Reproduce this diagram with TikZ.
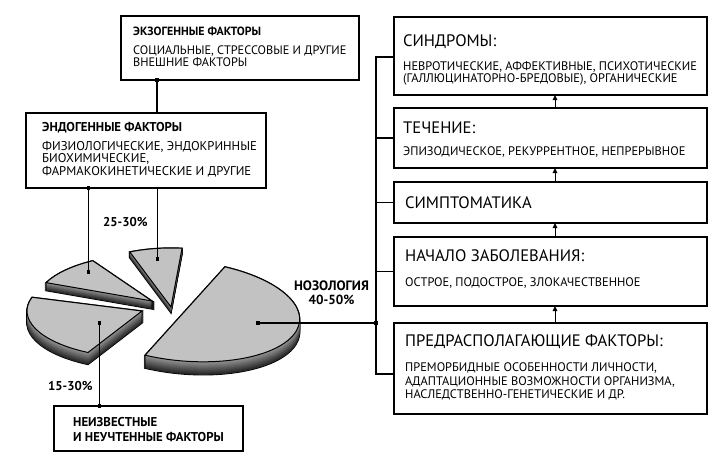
\documentclass[tikz,border=0pt]{standalone}
\usepackage{fontspec}
\setmainfont{PT Sans}
\usetikzlibrary{arrows.meta}
\newcommand\drawpiece[5]{%
  \foreach \dd in {0,...,#4} {\fill[black, draw=black, line width=1.3pt, shift={(#1,{#2+\dd})}, rotate=#3] #5;}
  \foreach \dd in {#4,...,0} {\pgfmathsetmacro\cc{40+45*\dd/#4}\fill[black!\cc, shift={(#1,{#2+\dd})}, rotate=#3] #5;}
  \fill[topface, draw=black, line width=1pt, shift={(#1,#2)}, rotate=#3] #5;
}
\begin{document}
\begin{tikzpicture}[x=1pt,y=1pt,yscale=-1,
  box/.style={draw, line width=1.1pt, inner sep=0pt, outer sep=0pt},
  dot/.style={fill, rectangle, minimum size=3.4pt, inner sep=0pt},
  txt/.style={anchor=base west, inner sep=0pt, font=\fontsize{12.4}{13}\selectfont},
  txtl/.style={anchor=base west, inner sep=0pt, font=\fontsize{12.3}{13}\selectfont},
  txte/.style={anchor=base west, inner sep=0pt, font=\fontsize{12.7}{13}\selectfont},
  ttl/.style={anchor=base west, inner sep=0pt, font=\fontsize{11.9}{12}\selectfont\bfseries},
  ttle/.style={anchor=base west, inner sep=0pt, font=\fontsize{12.8}{13}\selectfont\bfseries},
  ttlb/.style={anchor=base west, inner sep=0pt, font=\fontsize{12.8}{13}\selectfont\bfseries},
  hd/.style={anchor=base west, inner sep=0pt, font=\fontsize{16.6}{18}\selectfont},
  conn/.style={line width=1.1pt},
  arr/.style={line width=1pt, -{Triangle[length=5pt,width=4.5pt]}},
  topface/.style={fill=black!24}]
\useasboundingbox (0,0) rectangle (723,471);
% pie pieces
\drawpiece{152}{301}{0}{8}{(0,0) -- (203:115 and 47) arc[start angle=203, end angle=239, x radius=115, y radius=47] -- cycle}
\drawpiece{171}{307}{0}{6}{(0,0) -- (249:115 and 59) arc[start angle=249, end angle=275.5, x radius=115, y radius=59] -- cycle}
\drawpiece{142}{311}{0}{12}{(0,0) -- (118:115 and 47) arc[start angle=118, end angle=197, x radius=115, y radius=47] -- cycle}
\drawpiece{185}{311}{5}{13}{(108.2:115 and 50) -- (-71.8:115 and 50) arc[start angle=-71.8, end angle=108.2, x radius=115, y radius=50] -- cycle}
% boxes
\node[box, minimum width=238pt, minimum height=64pt] (exo) at (240,48) {};
\node[box, minimum width=240pt, minimum height=75pt] (endo) at (146,150.5) {};
\node[box, minimum width=189pt, minimum height=45pt] (unk) at (148.5,428.5) {};
\node[box, minimum width=313pt, minimum height=78pt] (b1) at (550.5,56) {};
\node[box, minimum width=313pt, minimum height=60pt] (b2) at (550.5,138) {};
\node[box, minimum width=313pt, minimum height=41pt] (b3) at (550.5,202.5) {};
\node[box, minimum width=313pt, minimum height=69pt] (b4) at (550.5,271.5) {};
\node[box, minimum width=313pt, minimum height=91pt] (b5) at (550.5,368.5) {};
% texts
\node[ttl] (t1) at (133,35) {ЭКЗОГЕННЫЕ ФАКТОРЫ};
\node[txtl] (t2) at (133,54.5) {СОЦИАЛЬНЫЕ, СТРЕССОВЫЕ И ДРУГИЕ};
\node[txtl] (t3) at (133,66.5) {ВНЕШНИЕ ФАКТОРЫ};
\node[ttle] (t4) at (42,131.5) {ЭНДОГЕННЫЕ ФАКТОРЫ};
\node[txte] (t5) at (42,150) {ФИЗИОЛОГИЧЕСКИЕ, ЭНДОКРИННЫЕ};
\node[txte] (t6) at (42,162.5) {БИОХИМИЧЕСКИЕ,};
\node[txte] (t7) at (42,175) {ФАРМАКОКИНЕТИЧЕСКИЕ И ДРУГИЕ};
\node[ttlb] (p1) at (103,226) {25-30\%};
\node[ttlb] (p2) at (48,390) {15-30\%};
\node[ttlb] (t8) at (73,426.5) {НЕИЗВЕСТНЫЕ};
\node[ttlb] (t9) at (73,441.5) {И НЕУЧТЕННЫЕ ФАКТОРЫ};
\node[ttlb, anchor=base, font=\fontsize{13.6}{14}\selectfont\bfseries] (nz) at (331.5,290) {НОЗОЛОГИЯ};
\node[ttlb, anchor=base, font=\fontsize{13.2}{14}\selectfont\bfseries] (p3) at (331.5,304) {40-50\%};
\node[hd] (h1) at (403,46.5) {СИНДРОМЫ:};
\node[txt] (s1) at (403,70) {НЕВРОТИЧЕСКИЕ, АФФЕКТИВНЫЕ, ПСИХОТИЧЕСКИЕ};
\node[txt] (s2) at (403,82.5) {(ГАЛЛЮЦИНАТОРНО-БРЕДОВЫЕ), ОРГАНИЧЕСКИЕ};
\node[hd] (h2) at (403,133) {ТЕЧЕНИЕ:};
\node[txt] (s3) at (403,155) {ЭПИЗОДИЧЕСКОЕ, РЕКУРРЕНТНОЕ, НЕПРЕРЫВНОЕ};
\node[hd] (h3) at (405,208) {СИМПТОМАТИКА};
\node[hd] (h4) at (405,261.5) {НАЧАЛО ЗАБОЛЕВАНИЯ:};
\node[txt] (s4) at (405,286.5) {ОСТРОЕ, ПОДОСТРОЕ, ЗЛОКАЧЕСТВЕННОЕ};
\node[hd] (h5) at (405,346.5) {ПРЕДРАСПОЛАГАЮЩИЕ ФАКТОРЫ:};
\node[txt] (s5) at (405,371.5) {ПРЕМОРБИДНЫЕ ОСОБЕННОСТИ ЛИЧНОСТИ,};
\node[txt] (s6) at (405,385) {АДАПТАЦИОННЫЕ ВОЗМОЖНОСТИ ОРГАНИЗМА,};
\node[txt] (s7) at (405,398) {НАСЛЕДСТВЕННО-ГЕНЕТИЧЕСКИЕ И ДР.};
% connectors left
\node[dot] (jexo) at (157,80) {};
\draw[conn] (jexo) -- (jexo |- endo.north);
\node[dot] (jendo) at (88.5,188) {};
\node[dot] (da) at (88.5,272) {};
\draw[conn] (jendo) -- (da);
\coordinate (jendob) at (157.5,188);
\node[dot] (db) at (157.5,259) {};
\draw[conn] (jendob) -- (db);
\node[dot] (dc) at (99.5,323) {};
\node[dot] (junk) at (99.5,406) {};
\draw[conn] (dc) -- (junk);
\node[dot] (dd) at (258,323) {};
\node[dot] (jbus) at (376,323) {};
\draw[conn] (dd) -- (jbus);
% bus
\coordinate (bt) at (376,57);
\coordinate (bb) at (376,374);
\draw[conn] (b1.west |- bt) -- (bt) -- (bb) -- (b5.west |- bb);
\draw[conn] (b2.west) -- (b2.west -| bt);
\draw[conn] (b3.west) -- (b3.west -| bt);
\draw[conn] (b4.west) -- (b4.west -| bt);
% arrows
\coordinate (ax) at (555,0);
\draw[arr] (b5.north -| ax) -- (b4.south -| ax);
\draw[arr] (b4.north -| ax) -- (b3.south -| ax);
\draw[arr] (b3.north -| ax) -- (b2.south -| ax);
\draw[arr] (b2.north -| ax) -- (b1.south -| ax);
\end{tikzpicture}
\end{document}
